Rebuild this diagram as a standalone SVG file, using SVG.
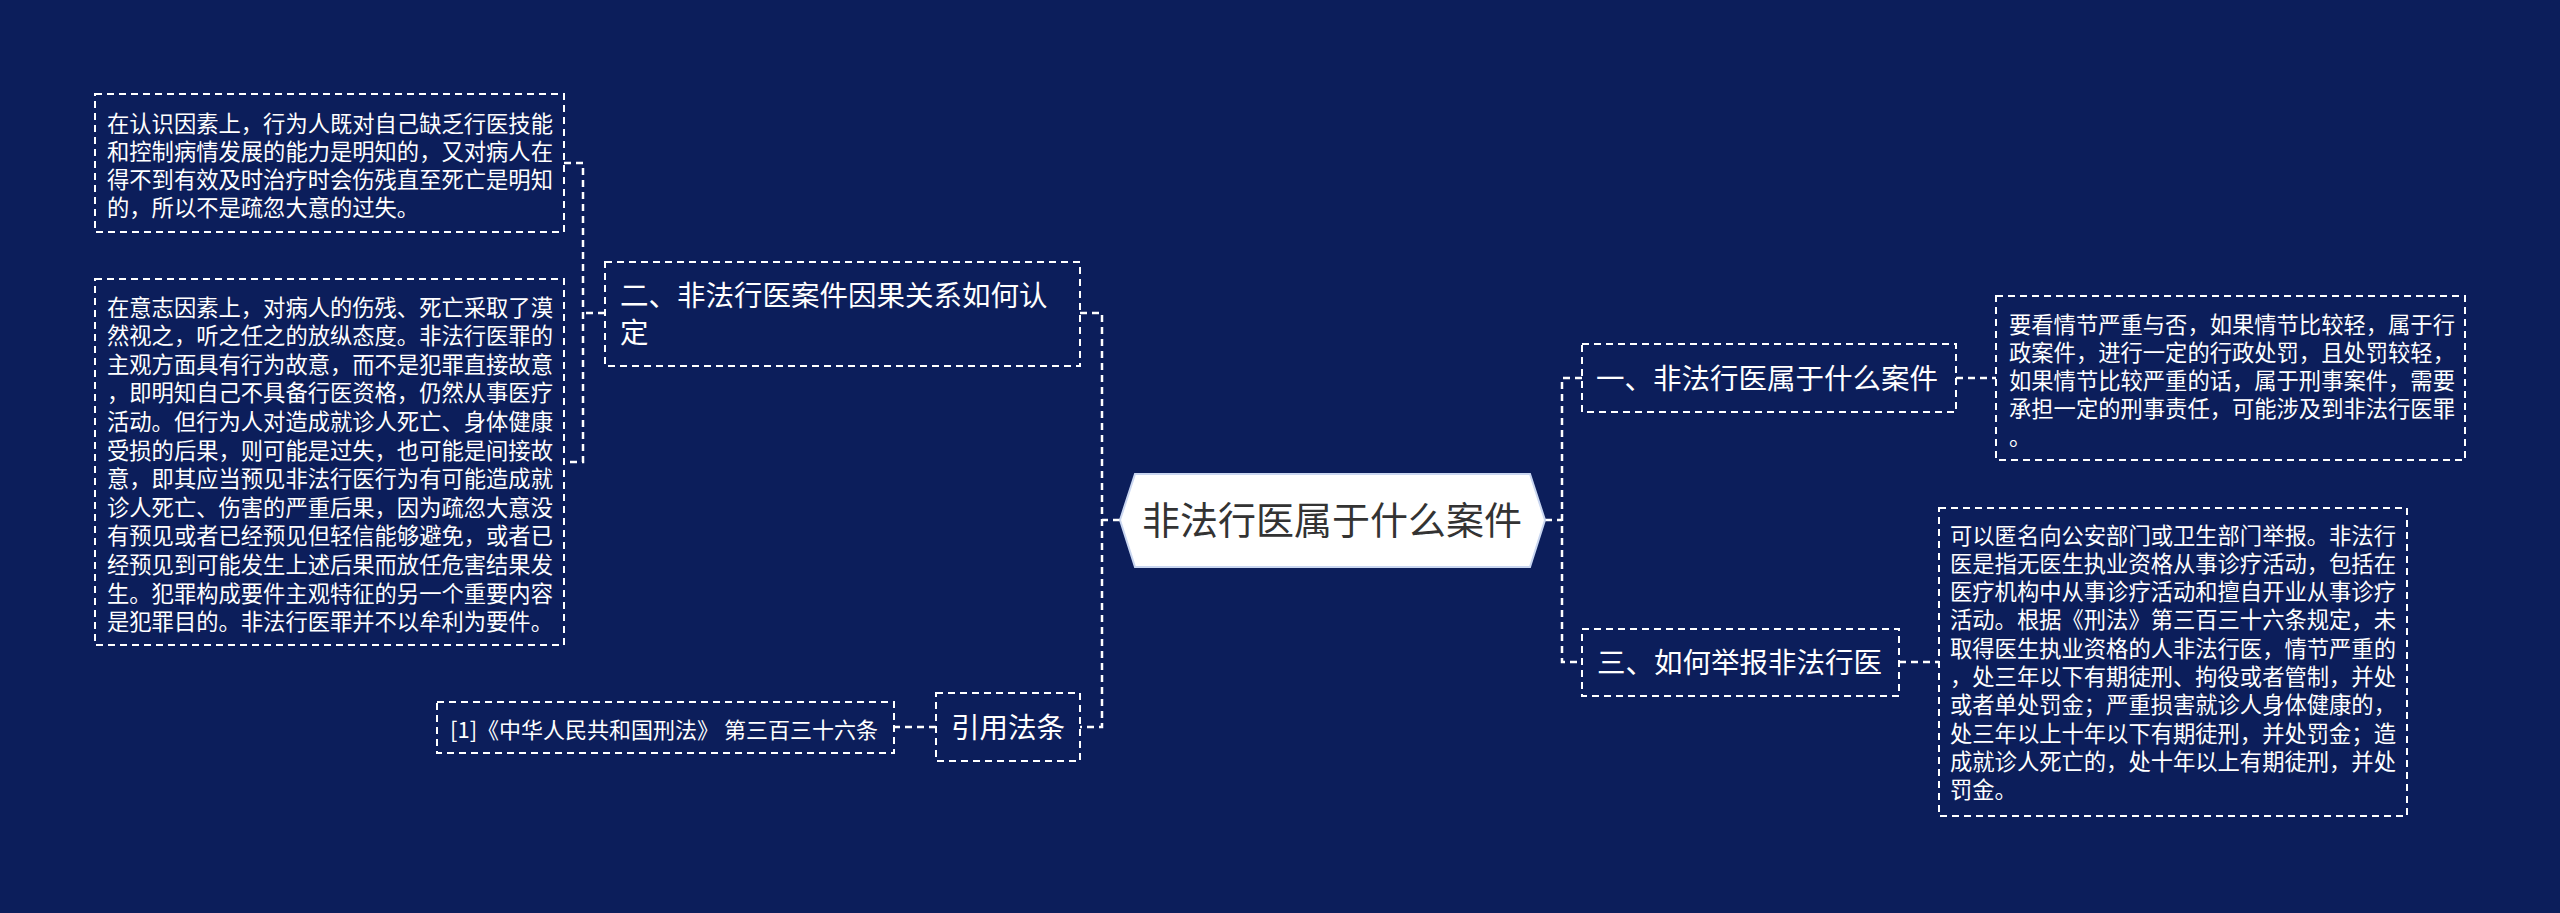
<svg xmlns="http://www.w3.org/2000/svg" width="2560" height="913" viewBox="0 0 2560 913">
<style>
.bg{fill:#0c1e5b}
.box{fill:none;stroke:#ffffff;stroke-width:2;stroke-dasharray:7 5}
.con{fill:none;stroke:#ffffff;stroke-width:2.5;stroke-dasharray:7 5}
.t{font-family:"Noto Sans CJK SC","Noto Sans",sans-serif;fill:#ffffff}
.s{font-size:22.3px}
.m{font-size:28.5px}
.c{font-size:38px;fill:#333333}
</style>
<rect class="bg" x="0" y="0" width="2560" height="913"/>
<g id="connectors">
<path class="con" d="M1120 520 H1102"/>
<path class="con" d="M1080 313 H1102 V727 H1080"/>
<path class="con" d="M605 313 H583"/>
<path class="con" d="M564 163 H583 V462 H564"/>
<path class="con" d="M936 727 H894"/>
<path class="con" d="M1545 520 H1562"/>
<path class="con" d="M1582 378 H1562 V662 H1582"/>
<path class="con" d="M1956 378 H1996"/>
<path class="con" d="M1899 662 H1939"/>
</g>
<g id="root">
<polygon points="1120,520 1135,474 1530,474 1545,520 1530,567 1135,567" fill="#ffffff" stroke="#c9d6f0" stroke-width="2"/>
<text class="t c" x="1332" y="534" text-anchor="middle">非法行医属于什么案件</text>
</g>
<g id="n2">
<rect class="box" x="605" y="262" width="475" height="104"/>
<text class="t m" x="620" y="306">二、非法行医案件因果关系如何认</text>
<text class="t m" x="620" y="343">定</text>
</g>
<g id="n2a">
<rect class="box" x="95" y="94" width="469" height="138"/>
<text class="t s"><tspan x="107" y="132">在认识因素上，行为人既对自己缺乏行医技能</tspan><tspan x="107" y="160">和控制病情发展的能力是明知的，又对病人在</tspan><tspan x="107" y="188">得不到有效及时治疗时会伤残直至死亡是明知</tspan><tspan x="107" y="216">的，所以不是疏忽大意的过失。</tspan></text>
</g>
<g id="n2b">
<rect class="box" x="95" y="279" width="469" height="366"/>
<text class="t s"><tspan x="107" y="315.5">在意志因素上，对病人的伤残、死亡采取了漠</tspan><tspan x="107" y="344.1">然视之，听之任之的放纵态度。非法行医罪的</tspan><tspan x="107" y="372.7">主观方面具有行为故意，而不是犯罪直接故意</tspan><tspan x="107" y="401.3">，即明知自己不具备行医资格，仍然从事医疗</tspan><tspan x="107" y="429.9">活动。但行为人对造成就诊人死亡、身体健康</tspan><tspan x="107" y="458.5">受损的后果，则可能是过失，也可能是间接故</tspan><tspan x="107" y="487.1">意，即其应当预见非法行医行为有可能造成就</tspan><tspan x="107" y="515.7">诊人死亡、伤害的严重后果，因为疏忽大意没</tspan><tspan x="107" y="544.3">有预见或者已经预见但轻信能够避免，或者已</tspan><tspan x="107" y="572.9">经预见到可能发生上述后果而放任危害结果发</tspan><tspan x="107" y="601.5">生。犯罪构成要件主观特征的另一个重要内容</tspan><tspan x="107" y="630.1">是犯罪目的。非法行医罪并不以牟利为要件。</tspan></text>
</g>
<g id="n4">
<rect class="box" x="936" y="693" width="144" height="68"/>
<text class="t m" x="951" y="738">引用法条</text>
</g>
<g id="n4a">
<rect class="box" x="437" y="702" width="457" height="51"/>
<text class="t" font-size="22" x="450" y="738">[1]《中华人民共和国刑法》 第三百三十六条</text>
</g>
<g id="n1">
<rect class="box" x="1582" y="344" width="374" height="68"/>
<text class="t m" x="1596" y="389">一、非法行医属于什么案件</text>
</g>
<g id="n1a">
<rect class="box" x="1996" y="296" width="469" height="164"/>
<text class="t s"><tspan x="2009" y="332.5">要看情节严重与否，如果情节比较轻，属于行</tspan><tspan x="2009" y="360.5">政案件，进行一定的行政处罚，且处罚较轻，</tspan><tspan x="2009" y="388.5">如果情节比较严重的话，属于刑事案件，需要</tspan><tspan x="2009" y="416.5">承担一定的刑事责任，可能涉及到非法行医罪</tspan><tspan x="2009" y="444.5">。</tspan></text>
</g>
<g id="n3">
<rect class="box" x="1582" y="629" width="317" height="67"/>
<text class="t m" x="1597" y="673">三、如何举报非法行医</text>
</g>
<g id="n3a">
<rect class="box" x="1939" y="508" width="468" height="308"/>
<text class="t s"><tspan x="1950" y="543.5">可以匿名向公安部门或卫生部门举报。非法行</tspan><tspan x="1950" y="571.8">医是指无医生执业资格从事诊疗活动，包括在</tspan><tspan x="1950" y="600.1">医疗机构中从事诊疗活动和擅自开业从事诊疗</tspan><tspan x="1950" y="628.4">活动。根据《刑法》第三百三十六条规定，未</tspan><tspan x="1950" y="656.7">取得医生执业资格的人非法行医，情节严重的</tspan><tspan x="1950" y="685">，处三年以下有期徒刑、拘役或者管制，并处</tspan><tspan x="1950" y="713.3">或者单处罚金；严重损害就诊人身体健康的，</tspan><tspan x="1950" y="741.6">处三年以上十年以下有期徒刑，并处罚金；造</tspan><tspan x="1950" y="769.9">成就诊人死亡的，处十年以上有期徒刑，并处</tspan><tspan x="1950" y="798.2">罚金。</tspan></text>
</g>
</svg>
